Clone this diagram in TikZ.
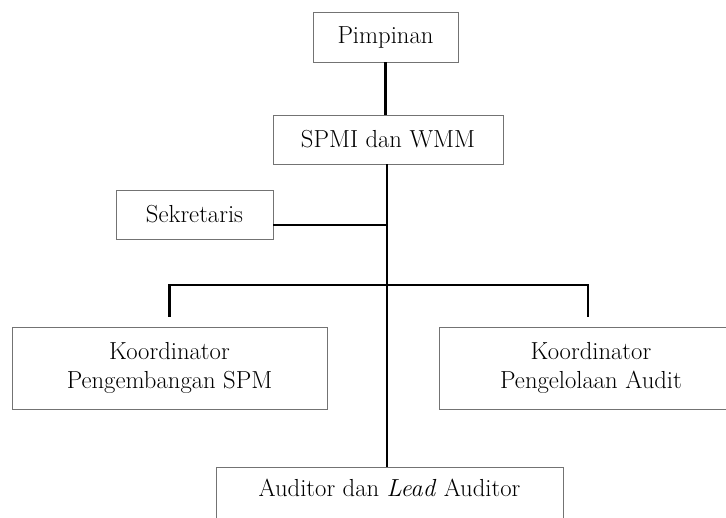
\documentclass[tikz,border=0pt]{standalone}
\usepackage{tikz}

\begin{document}
\begin{tikzpicture}[
        x=0.75pt,
        y=-0.75pt,
        font=\fontsize{18.5}{22}\selectfont,
        unit/.style={draw=black!55, line width=0.6pt, align=center, inner sep=0pt},
        link/.style={black, line width=1.6pt},
        drop/.style={link, shorten >=7.5pt}
    ]
        \clip (0,0) rectangle (726,518);

        % top of the chart
        \node[unit, minimum width=108.75pt, minimum height=37.5pt] (lead) at (385.5,37) {Pimpinan};
        \node[unit, minimum width=172.5pt, minimum height=36.75pt] (spmi) at (388,139.5) {SPMI dan WMM};
        \node[unit, minimum width=117.75pt, minimum height=36.75pt] (sek) at (194.5,214.5) {Sekretaris};

        % coordinators and auditors
        \node[unit, minimum width=236.25pt, minimum height=61.5pt] (koorL) at (169.5,368) {Koordinator\\Pengembangan SPM};
        \node[unit, minimum width=228pt, minimum height=61.5pt] (koorR) at (591,368) {Koordinator\\Pengelolaan Audit};
        \node[unit, anchor=north, minimum width=260.25pt, text height=22pt, text depth=30pt] (aud) at (389.5,467)
            {Auditor dan \textit{Lead} Auditor};

        \coordinate (hub) at (387,285);

        \draw[link] (lead.south) -- (spmi.north -| lead.south);
        \draw[link] (spmi.south -| hub) -- (aud.north -| hub);
        \draw[link] ([yshift=-8pt]sek.east) -- ([yshift=-8pt]sek.east -| hub);
        \draw[drop] (hub) -| (koorL.north);
        \draw[drop] (hub) -| (koorR.north -| 588,0);
    \end{tikzpicture}
\end{document}
